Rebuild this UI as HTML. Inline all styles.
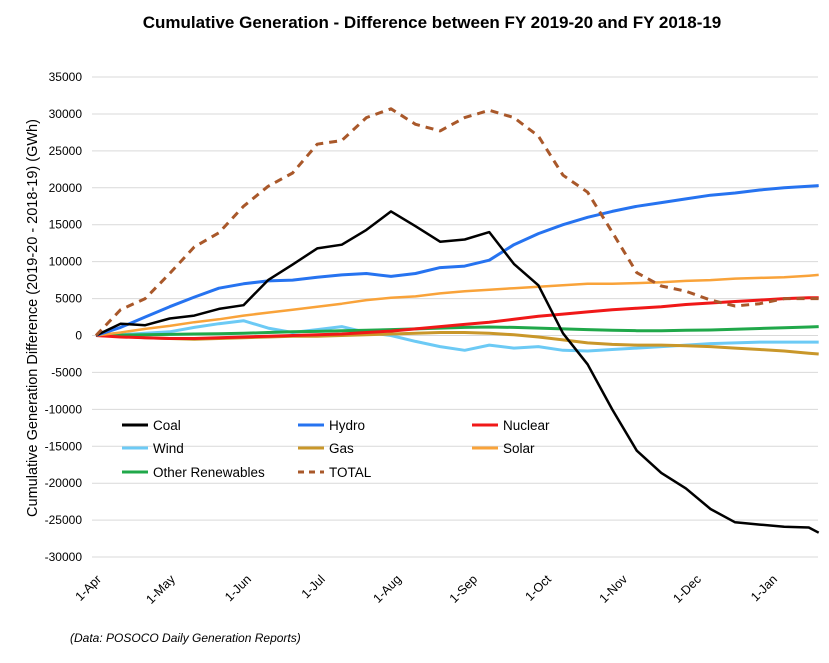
<!DOCTYPE html>
<html><head><meta charset="utf-8"><style>
body{margin:0;background:#fff;font-family:"Liberation Sans",sans-serif}
</style></head><body>
<svg id="chart" width="829" height="658" xmlns="http://www.w3.org/2000/svg">
<text x="432" y="28" text-anchor="middle" font-size="17" font-weight="bold" fill="#000">Cumulative Generation - Difference between FY 2019-20 and FY 2018-19</text>
<text transform="translate(37,318) rotate(-90)" text-anchor="middle" font-size="14.5" fill="#000">Cumulative Generation Difference (2019-20 - 2018-19)  (GWh)</text>
<text x="70" y="642" font-size="12" font-style="italic" fill="#000">(Data: POSOCO Daily Generation Reports)</text>
<g id="grid"></g><g id="yticks"></g><g id="xticks"></g><g id="series"></g><g id="legend"></g>
</svg>
<script>
const days = [0,10,20,30,40,50,60,70,80,90,100,110,120,130,140,150,160,170,180,190,200,210,220,230,240,250,260,270,280,290,294];
const monthLabels = ["1-Apr","1-May","1-Jun","1-Jul","1-Aug","1-Sep","1-Oct","1-Nov","1-Dec","1-Jan"];
const monthDays = [0,30,61,91,122,153,183,214,244,275];
const yTicks = [35000,30000,25000,20000,15000,10000,5000,0,-5000,-10000,-15000,-20000,-25000,-30000];
const seriesNames = ["Coal","Hydro","Nuclear","Wind","Gas","Solar","Other Renewables","TOTAL"];
const coal = [0,1600,1400,2300,2700,3600,4100,7500,9600,11800,12300,14300,16800,14800,12700,13000,14000,9700,6800,300,-3900,-10000,-15600,-18600,-20700,-23500,-25300,-25600,-25900,-26000,-26700];
const hydro = [0,1100,2500,3900,5200,6400,7000,7400,7500,7900,8200,8400,8000,8400,9200,9400,10200,12300,13800,15000,16000,16800,17500,18000,18500,19000,19300,19700,20000,20200,20300];
const nuclear = [0,-200,-300,-400,-400,-300,-200,-100,0,100,200,400,600,900,1200,1500,1800,2200,2600,2900,3200,3500,3700,3900,4200,4400,4600,4800,5000,5100,5100];
const wind = [0,100,300,500,1100,1600,2000,1000,400,800,1200,400,0,-800,-1500,-2000,-1300,-1700,-1500,-2000,-2100,-1900,-1700,-1500,-1300,-1100,-1000,-900,-900,-900,-900];
const gas = [0,-100,-300,-400,-500,-400,-300,-200,-100,-100,0,100,200,300,400,400,300,100,-200,-600,-1000,-1200,-1300,-1300,-1400,-1500,-1700,-1900,-2100,-2400,-2500];
const solar = [0,400,900,1300,1800,2200,2700,3100,3500,3900,4300,4800,5100,5300,5700,6000,6200,6400,6600,6800,7000,7000,7100,7200,7400,7500,7700,7800,7900,8100,8200];
const otherRen = [0,50,100,150,200,250,300,400,500,550,650,700,800,900,1000,1100,1150,1100,1000,900,800,700,650,650,700,750,850,950,1050,1150,1200];
const total = [0,3500,5000,8400,12000,13900,17500,20200,22000,25900,26400,29500,30700,28600,27700,29500,30500,29500,27000,21700,19400,14000,8500,6700,6000,4800,4000,4300,5000,5000,5000];

const NS="http://www.w3.org/2000/svg";
const x0=96, pxPerDay=2.458, yZero=335.5, pxPerUnit=7.385/1000;
const X=d=>x0+d*pxPerDay;
const Y=v=>yZero-v*pxPerUnit;
function mk(tag,attrs,parent){const e=document.createElementNS(NS,tag);for(const k in attrs)e.setAttribute(k,attrs[k]);parent.appendChild(e);return e;}
const grid=document.getElementById('grid'), yt=document.getElementById('yticks'), xt=document.getElementById('xticks'), sg=document.getElementById('series'), lg=document.getElementById('legend');
yTicks.forEach(v=>{
  const l=mk('line',{x1:92,x2:818,y1:Y(v),y2:Y(v),stroke:'#d9d9d9','stroke-width':1},grid);
  
  
  const t=mk('text',{x:82,y:Y(v)+4,'text-anchor':'end','font-size':12,fill:'#000'},yt);
  t.textContent=v;
  
  
});
monthLabels.forEach((m,i)=>{
  const x=X(monthDays[i])+6;
  const y=580;
  const t=mk('text',{x:x,y:y,'text-anchor':'end','font-size':12.5,fill:'#000',transform:`rotate(-45 ${x} ${y})`},xt);
  t.textContent=m;
  
  
});
const styles=[
 [coal,'#000000',2.5,null],[hydro,'#2673f0',3,null],[nuclear,'#f01818',3,null],[wind,'#6ccaf5',3,null],
 [gas,'#c9972a',3,null],[solar,'#f9a33a',2.5,null],[otherRen,'#20a84a',3,null],[total,'#a9582a',3,'8,6']];
const order=[3,4,6,2,5,1,0,7];
order.forEach(i=>{
  const [vals,col,w,dash]=styles[i];
  const pts=vals.map((v,j)=>X(days[j]).toFixed(1)+','+Y(v).toFixed(1)).join(' ');
  const a={points:pts,fill:'none',stroke:col,'stroke-width':w,'stroke-linejoin':'round'};
  if(dash)a['stroke-dasharray']=dash;
  const p=mk('polyline',a,sg);
  
  
});
const lpos=[[122,425],[298,425],[472,425],[122,448],[298,448],[472,448],[122,472],[298,472]];
seriesNames.forEach((n,i)=>{
  const [x,y]=lpos[i];const [,col,w,dash]=styles[i];
  const a={x1:x,x2:x+26,y1:y,y2:y,stroke:col,'stroke-width':3};
  if(dash)a['stroke-dasharray']='6,5';
  const g=mk('g',{},lg);
  
  
  mk('line',a,g);
  const t=mk('text',{x:x+31,y:y+5,'font-size':13.5,fill:'#000'},g);
  t.textContent=n;
});
</script>
</body></html>
